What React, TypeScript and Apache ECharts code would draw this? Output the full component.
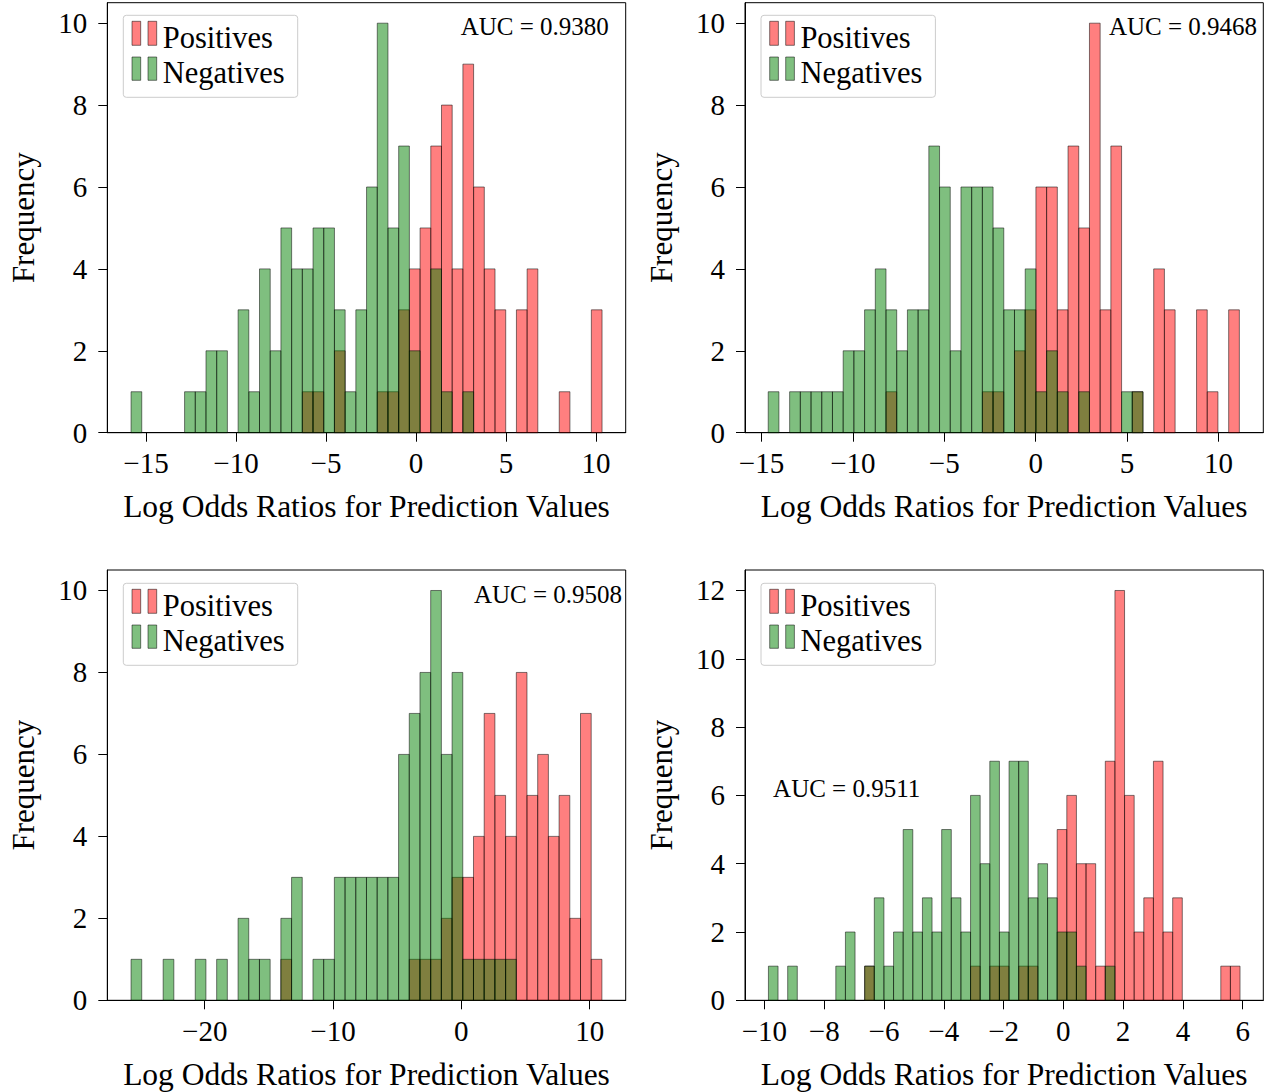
import React, { useEffect, useRef } from "react";
import * as echarts from "echarts";

const FONT = '"Liberation Serif", "Times New Roman", serif';

// ---------- Data ----------
const legendLabels = ["Positives", "Negatives"];
const xAxisTitle = "Log Odds Ratios for Prediction Values";
const yAxisTitle = "Frequency";

// Panel 1 (top-left)
const p1BinStart = -15.83;
const p1BinWidth = 0.5947;
const p1Positives = [0,0,0,0,0,0,0,0,0,0,0,0,0,0,0,0,1,1,0,2,0,0,0,1,1,3,4,5,7,8,4,9,6,4,3,0,3,4,0,0,1,0,0,3];
const p1Negatives = [1,0,0,0,0,1,1,2,2,0,3,1,4,2,5,4,4,5,5,3,1,3,6,10,5,7,2,0,4,1,0,1,0,0,0,0,0,0,0,0,0,0,0,0];
const p1XTicks = [-15, -10, -5, 0, 5, 10];
const p1YTicks = [0, 2, 4, 6, 8, 10];
const p1Auc = "AUC = 0.9380";

// Panel 2 (top-right)
const p2BinStart = -14.63;
const p2BinWidth = 0.5857;
const p2Positives = [0,0,0,0,0,0,0,0,0,0,0,1,0,0,0,0,0,0,0,0,1,1,0,2,3,6,6,3,7,5,10,3,7,0,1,0,4,3,0,0,3,1,0,3];
const p2Negatives = [1,0,1,1,1,1,1,2,2,3,4,3,2,3,3,7,6,2,6,6,6,5,3,3,4,1,2,1,0,1,0,0,0,1,1,0,0,0,0,0,0,0,0,0];
const p2XTicks = [-15, -10, -5, 0, 5, 10];
const p2YTicks = [0, 2, 4, 6, 8, 10];
const p2Auc = "AUC = 0.9468";

// Panel 3 (bottom-left)
const p3BinStart = -25.74;
const p3BinWidth = 0.834;
const p3Positives = [0,0,0,0,0,0,0,0,0,0,0,0,0,0,1,0,0,0,0,0,0,0,0,0,0,0,1,1,1,2,3,3,4,7,5,4,8,5,6,4,5,2,7,1];
const p3Negatives = [1,0,0,1,0,0,1,0,1,0,2,1,1,0,2,3,0,1,1,3,3,3,3,3,3,6,7,8,10,6,8,1,1,1,1,1,0,0,0,0,0,0,0,0];
const p3XTicks = [-20, -10, 0, 10];
const p3YTicks = [0, 2, 4, 6, 8, 10];
const p3Auc = "AUC = 0.9508";

// Panel 4 (bottom-right)
const p4BinStart = -9.866;
const p4BinWidth = 0.322;
const p4Positives = [0,0,0,0,0,0,0,0,0,0,1,0,0,0,0,0,0,0,0,0,0,1,0,1,1,0,1,1,0,0,5,6,4,4,1,7,12,6,2,3,7,2,3,0,0,0,0,1,1];
const p4Negatives = [1,0,1,0,0,0,0,1,2,0,1,3,1,2,5,2,3,2,5,3,2,6,4,7,2,7,7,3,4,3,2,2,1,0,0,1,0,0,0,0,0,0,0,0,0,0,0,0,0];
const p4XTicks = [-10, -8, -6, -4, -2, 0, 2, 4, 6];
const p4YTicks = [0, 2, 4, 6, 8, 10, 12];
const p4Auc = "AUC = 0.9511";

// ---------- Layout ----------
const panels = [
  { left: 107.3, top: 2.7, width: 518.4, height: 430, xMin: -17.15, xMax: 11.65, yMax: 10.5,
    start: p1BinStart, w: p1BinWidth, pos: p1Positives, neg: p1Negatives, xTicks: p1XTicks, yTicks: p1YTicks,
    auc: p1Auc, aucX: 534.8, aucBase: 35, lx: 0, ly: 0 },
  { left: 745, top: 2.7, width: 518.3, height: 430, xMin: -15.9, xMax: 12.45, yMax: 10.5,
    start: p2BinStart, w: p2BinWidth, pos: p2Positives, neg: p2Negatives, xTicks: p2XTicks, yTicks: p2YTicks,
    auc: p2Auc, aucX: 1183, aucBase: 35, lx: 637.7, ly: 0 },
  { left: 107.3, top: 570, width: 518.4, height: 430.3, xMin: -27.59, xMax: 12.81, yMax: 10.5,
    start: p3BinStart, w: p3BinWidth, pos: p3Positives, neg: p3Negatives, xTicks: p3XTicks, yTicks: p3YTicks,
    auc: p3Auc, aucX: 548, aucBase: 603.3, lx: 0, ly: 568 },
  { left: 745, top: 570, width: 518.3, height: 430.3, xMin: -10.65, xMax: 6.69, yMax: 12.6,
    start: p4BinStart, w: p4BinWidth, pos: p4Positives, neg: p4Negatives, xTicks: p4XTicks, yTicks: p4YTicks,
    auc: p4Auc, aucX: 846.7, aucBase: 796.7, lx: 637.7, ly: 568 },
];

const RED = "rgba(255,0,0,0.5)";
const GREEN = "rgba(0,128,0,0.5)";
const EDGE = "rgba(0,0,0,0.5)";

const fmt = (v: number) => (v < 0 ? "\u2212" + Math.abs(v) : String(v));

const makeRender = (fill: string) => (params: any, api: any) => {
  const x0 = api.value(0);
  const x1 = api.value(1);
  const h = api.value(2);
  const a = api.coord([x0, 0]);
  const b = api.coord([x1, h]);
  return {
    type: "rect",
    shape: { x: a[0], y: b[1], width: b[0] - a[0], height: a[1] - b[1] },
    style: { fill, stroke: EDGE, lineWidth: 1 },
  };
};

const binData = (start: number, w: number, counts: number[]) =>
  counts
    .map((c, i) => [start + i * w, start + (i + 1) * w, c])
    .filter((d) => d[2] > 0);

function text(x: number, y: number, t: string, size: number, align: string) {
  return {
    type: "text",
    x,
    y,
    silent: true,
    z: 100,
    style: {
      text: t,
      fill: "#000",
      fontFamily: FONT,
      fontSize: size,
      align,
      verticalAlign: "middle",
      textAlign: align,
      textVerticalAlign: "middle",
    },
  };
}

function buildOption() {
  const grid: any[] = [];
  const xAxis: any[] = [];
  const yAxis: any[] = [];
  const series: any[] = [];
  const graphic: any[] = [];

  panels.forEach((p, k) => {
    grid.push({
      left: p.left, top: p.top, width: p.width, height: p.height,
      show: true, borderColor: "#000", borderWidth: 1, backgroundColor: "transparent",
      containLabel: false,
    });
    xAxis.push({
      type: "value", gridIndex: k, min: p.xMin, max: p.xMax,
      name: xAxisTitle, nameLocation: "middle", nameGap: 58,
      nameTextStyle: { fontFamily: FONT, fontSize: 31.5, color: "#000" },
      axisLine: { show: true, onZero: false, lineStyle: { color: "#000", width: 1 } },
      axisTick: { show: true, length: 9, customValues: p.xTicks, lineStyle: { color: "#000", width: 1 } },
      axisLabel: { show: true, customValues: p.xTicks, formatter: fmt, margin: 16,
        fontFamily: FONT, fontSize: 29, color: "#000" },
      splitLine: { show: false },
    });
    yAxis.push({
      type: "value", gridIndex: k, min: 0, max: p.yMax,
      name: yAxisTitle, nameLocation: "middle", nameGap: 68,
      nameTextStyle: { fontFamily: FONT, fontSize: 31, color: "#000" },
      axisLine: { show: true, onZero: false, lineStyle: { color: "#000", width: 1 } },
      axisTick: { show: true, length: 9, customValues: p.yTicks, lineStyle: { color: "#000", width: 1 } },
      axisLabel: { show: true, customValues: p.yTicks, formatter: fmt, margin: 20,
        fontFamily: FONT, fontSize: 29, color: "#000" },
      splitLine: { show: false },
    });
    series.push({
      type: "custom", name: legendLabels[0], xAxisIndex: k, yAxisIndex: k,
      renderItem: makeRender(RED), encode: { x: [0, 1], y: 2 },
      data: binData(p.start, p.w, p.pos), z: 2, itemStyle: { color: RED },
    });
    series.push({
      type: "custom", name: legendLabels[1], xAxisIndex: k, yAxisIndex: k,
      renderItem: makeRender(GREEN), encode: { x: [0, 1], y: 2 },
      data: binData(p.start, p.w, p.neg), z: 3, itemStyle: { color: GREEN },
    });

    // legend frame
    const lx = p.lx, ly = p.ly;
    graphic.push({
      type: "rect", silent: true, z: 90,
      shape: { x: 123.3 + lx, y: 15.3 + ly, width: 174.4, height: 82, r: 3 },
      style: { fill: "rgba(255,255,255,0.8)", stroke: "#cccccc", lineWidth: 1 },
    });
    [132, 148].forEach((px) => {
      graphic.push({
        type: "rect", silent: true, z: 95,
        shape: { x: px + lx, y: 21.3 + ly, width: 8.7, height: 24 },
        style: { fill: RED, stroke: EDGE, lineWidth: 1 },
      });
      graphic.push({
        type: "rect", silent: true, z: 95,
        shape: { x: px + lx, y: 57 + ly, width: 8.7, height: 23.3 },
        style: { fill: GREEN, stroke: EDGE, lineWidth: 1 },
      });
    });
    graphic.push(text(162.7 + lx, 38.3 + ly, legendLabels[0], 30.5, "left"));
    graphic.push(text(162.7 + lx, 73.3 + ly, legendLabels[1], 30.5, "left"));
    graphic.push(text(p.aucX, p.aucBase - 8.5, p.auc, 25, "center"));
  });

  return { animation: false, backgroundColor: "#fff", grid, xAxis, yAxis, series, graphic };
}

export default function App() {
  const ref = useRef<HTMLDivElement>(null);
  useEffect(() => {
    if (!ref.current) return;
    const chart = echarts.init(ref.current, undefined, { renderer: "svg" });
    chart.setOption(buildOption() as any);
    return () => chart.dispose();
  }, []);
  return (
    <div
      ref={ref}
      style={{ position: "absolute", left: 0, top: 0, width: 1273, height: 1092, background: "#fff" }}
    />
  );
}
